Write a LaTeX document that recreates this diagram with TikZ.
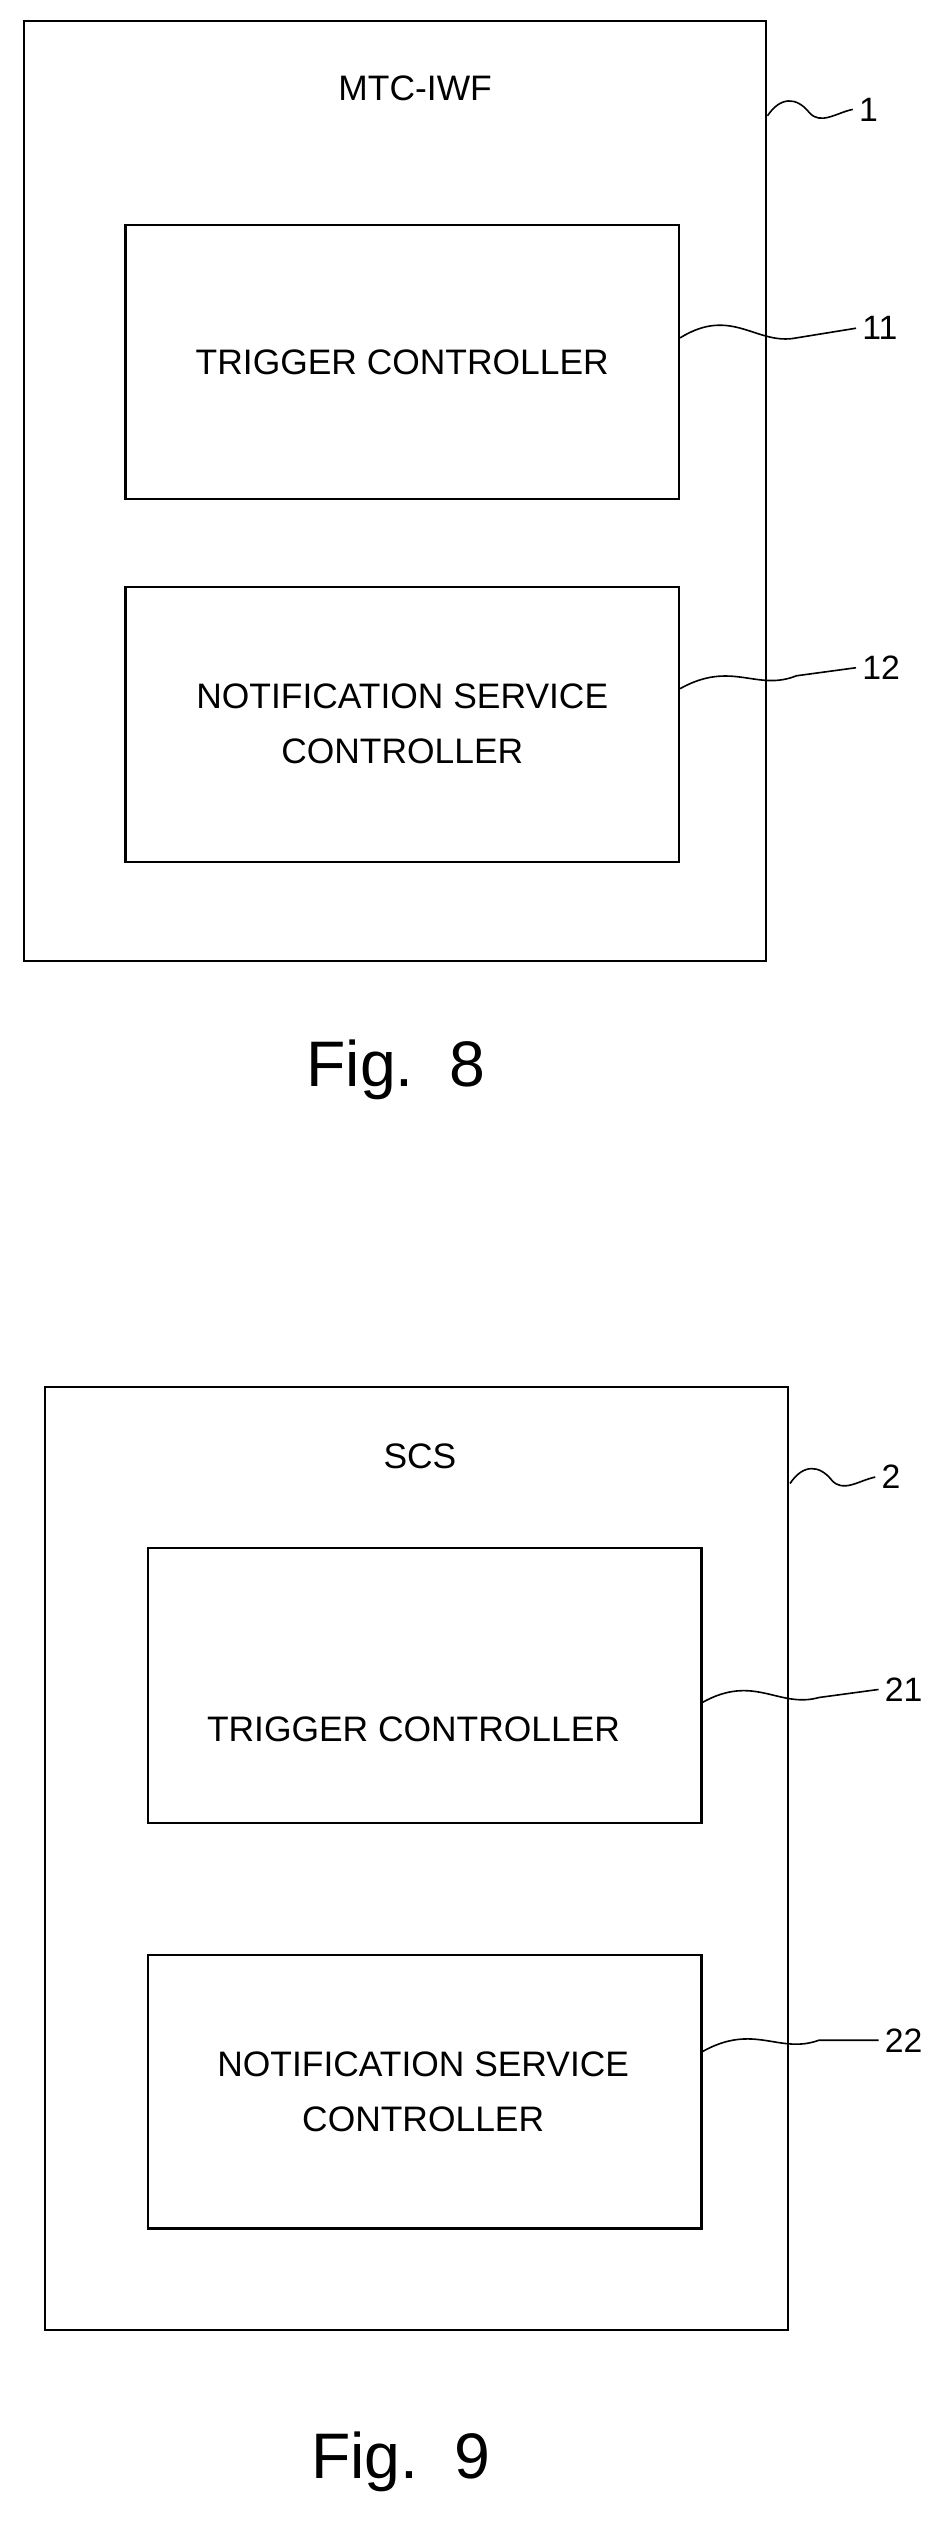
\documentclass[tikz,border=0pt]{standalone}
\usepackage{fontspec}
\setmainfont{Liberation Sans}
\begin{document}
\begin{tikzpicture}[x=1pt,y=-1pt,line width=1.3pt,
  box/.style={draw,rectangle},
  txt/.style={font=\fontsize{22}{34}\selectfont,align=center},
  lbl/.style={font=\fontsize{21}{24}\selectfont,anchor=west},
  figcap/.style={font=\fontsize{40}{44}\selectfont}]
\useasboundingbox (0,0) rectangle (586,1578);
% Fig 8
\node[box,minimum width=461pt,minimum height=584pt] (o1) at (245.5,305) {};
\node[txt] (t1) at (258,55) {MTC-IWF};
\node[box,minimum width=344pt,minimum height=170pt] (a1) at (250,225) {};
\node[txt] (a1t) at (250,225) {TRIGGER CONTROLLER};
\node[box,minimum width=344pt,minimum height=171pt] (b1) at (250,450.5) {};
\node[txt] (b1t) at (250,450) {NOTIFICATION SERVICE\\CONTROLLER};
\node[lbl] (l1) at (530,68) {1};
\node[lbl] (l11) at (532,204) {11};
\node[lbl] (l12) at (532,415) {12};
\draw[line width=1pt] (477,72) .. controls (485,60) and (495,60) .. (503,70) .. controls (510,78) and (520,70) .. (l1.west);
\draw[line width=1pt] (a1.east|-0,210) .. controls (455,190) and (470,215) .. (495,210) -- (l11.west);
\draw[line width=1pt] (b1.east|-0,428) .. controls (455,410) and (470,430) .. (495,420) -- (l12.west);
\node[figcap] (f8) at (246,665) {Fig.\ \ 8};
% Fig 9
\node[box,minimum width=462pt,minimum height=586pt] (o2) at (259,1155) {};
\node[txt] (t2) at (261,905) {SCS};
\node[box,minimum width=344pt,minimum height=171pt] (a2) at (264,1047.5) {};
\node[txt] (a2t) at (257,1075) {TRIGGER CONTROLLER};
\node[box,minimum width=344pt,minimum height=170pt] (b2) at (264,1300) {};
\node[txt] (b2t) at (263,1300) {NOTIFICATION SERVICE\\CONTROLLER};
\node[lbl] (l2) at (544,918) {2};
\node[lbl] (l21) at (546,1050) {21};
\node[lbl] (l22) at (546,1268) {22};
\draw[line width=1pt] (491,922) .. controls (499,910) and (509,910) .. (517,920) .. controls (524,928) and (534,920) .. (l2.west);
\draw[line width=1pt] (a2.east|-0,1058) .. controls (469,1040) and (484,1062) .. (509,1055) -- (l21.west);
\draw[line width=1pt] (b2.east|-0,1275) .. controls (469,1257) and (484,1277) .. (509,1268) -- (l22.west);
\node[figcap] (f9) at (249,1530) {Fig.\ \ 9};
\end{tikzpicture}
\end{document}
